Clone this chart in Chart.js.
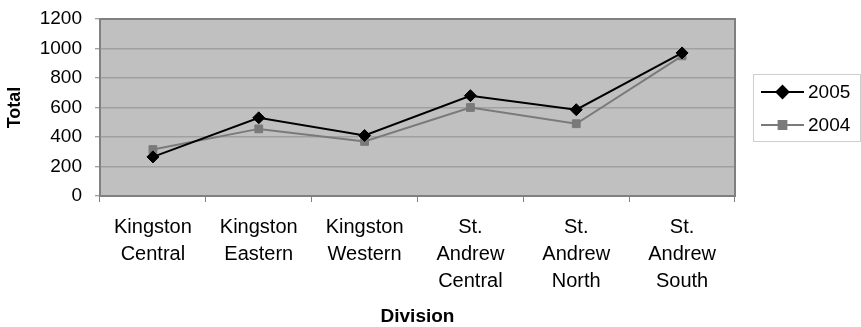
<!DOCTYPE html>
<html>
<head>
<meta charset="utf-8">
<script src="https://cdn.jsdelivr.net/npm/chart.js@4/dist/chart.umd.min.js"></script>
<style>
  html, body { margin: 0; padding: 0; background: #ffffff; }
  canvas { display: block; }
</style>
</head>
<body>
<canvas id="chart" width="861" height="327"></canvas>
<script>
// Divisions (multi-line category labels)
const divisions = [
  ['Kingston', 'Central'],
  ['Kingston', 'Eastern'],
  ['Kingston', 'Western'],
  ['St.', 'Andrew', 'Central'],
  ['St.', 'Andrew', 'North'],
  ['St.', 'Andrew', 'South']
];

// Totals per division
const totals2005 = [265, 530, 410, 680, 585, 970];
const totals2004 = [315, 455, 370, 600, 490, 950];

// Value axis ticks
const yTicks = [0, 200, 400, 600, 800, 1000, 1200];

const FONT = "'Liberation Sans', Arial, Helvetica, sans-serif";

// Gray plot background and frame
const plotFrame = {
  id: 'plotFrame',
  beforeDraw(chart) {
    const { ctx, chartArea: a } = chart;
    ctx.save();
    ctx.fillStyle = '#c0c0c0';
    ctx.fillRect(a.left, a.top, a.right - a.left, a.bottom - a.top);
    ctx.restore();
  },
  afterDatasetsDraw(chart) {
    const { ctx, chartArea: a } = chart;
    ctx.save();
    ctx.strokeStyle = '#808080';
    ctx.lineWidth = 2;
    ctx.strokeRect(a.left, a.top, a.right - a.left, a.bottom - a.top);
    ctx.restore();
  }
};

// Boxed legend to the right of the plot: line sample + marker + label
const boxedLegend = {
  id: 'boxedLegend',
  afterDraw(chart) {
    const { ctx, chartArea: a } = chart;
    const w = 107, h = 67;
    const x = a.right + 18;
    const y = Math.round((a.top + a.bottom) / 2 - h / 2);
    ctx.save();
    ctx.strokeStyle = '#cfcfcf';
    ctx.lineWidth = 1;
    ctx.strokeRect(x + 0.5, y + 0.5, w, h);
    chart.data.datasets.forEach((ds, i) => {
      const cy = y + 18 + i * 33;
      ctx.strokeStyle = ds.borderColor;
      ctx.lineWidth = 2;
      ctx.beginPath();
      ctx.moveTo(x + 8, cy);
      ctx.lineTo(x + 51, cy);
      ctx.stroke();
      ctx.fillStyle = ds.pointBackgroundColor;
      ctx.strokeStyle = ds.pointBorderColor;
      Chart.helpers.drawPoint(ctx, {
        pointStyle: ds.pointStyle,
        radius: ds.pointRadius,
        rotation: 0,
        borderWidth: 1
      }, x + 29.5, cy);
      ctx.fillStyle = '#000000';
      ctx.font = '19px ' + FONT;
      ctx.textAlign = 'left';
      ctx.textBaseline = 'middle';
      ctx.fillText(ds.label, x + 55, cy + 1);
    });
    ctx.restore();
  }
};

new Chart(document.getElementById('chart'), {
  type: 'line',
  data: {
    labels: divisions,
    datasets: [
      {
        label: '2005',
        data: totals2005,
        borderColor: '#000000',
        borderWidth: 2,
        pointStyle: 'rectRot',
        pointRadius: 6,
        pointBackgroundColor: '#000000',
        pointBorderColor: '#000000',
        pointBorderWidth: 1,
        tension: 0
      },
      {
        label: '2004',
        data: totals2004,
        borderColor: '#7a7a7a',
        borderWidth: 2,
        pointStyle: 'rect',
        pointRadius: 5.5,
        pointBackgroundColor: '#7a7a7a',
        pointBorderColor: '#7a7a7a',
        pointBorderWidth: 1,
        tension: 0
      }
    ]
  },
  options: {
    responsive: false,
    devicePixelRatio: 1,
    animation: false,
    events: [],
    layout: { padding: { left: 0, top: 19, right: 126, bottom: 0 } },
    plugins: {
      legend: { display: false },
      tooltip: { enabled: false }
    },
    scales: {
      x: {
        type: 'category',
        offset: true,
        afterFit(scale) {
          scale.height = 131;
          scale.paddingLeft = 0;
          scale.paddingRight = 0;
        },
        grid: {
          offset: true,
          drawOnChartArea: false,
          drawTicks: true,
          tickLength: 6,
          tickColor: '#808080',
          tickWidth: 1
        },
        border: { display: true, color: '#808080', width: 2 },
        ticks: {
          color: '#000000',
          padding: 12,
          maxRotation: 0,
          autoSkip: false,
          font: { family: FONT, size: 20, lineHeight: 1.35 }
        },
        title: {
          display: true,
          text: 'Division',
          color: '#000000',
          padding: { top: 0, bottom: 0 },
          font: { family: FONT, size: 19, weight: 'bold', lineHeight: 1.05 }
        }
      },
      y: {
        min: yTicks[0],
        max: yTicks[yTicks.length - 1],
        afterFit(scale) {
          scale.width = 100;
          scale.paddingTop = 0;
          scale.paddingBottom = 0;
        },
        afterBuildTicks(scale) { scale.ticks = yTicks.map(v => ({ value: v })); },
        grid: {
          color: '#a0a0a0',
          lineWidth: 1.5,
          drawTicks: true,
          tickLength: 5,
          tickColor: '#808080',
          tickWidth: 1
        },
        border: { display: true, color: '#808080', width: 2 },
        ticks: {
          color: '#000000',
          padding: 13,
          callback: v => String(v),
          font: { family: FONT, size: 19 }
        },
        title: {
          display: true,
          text: 'Total',
          color: '#000000',
          padding: { top: 4, bottom: 0 },
          font: { family: FONT, size: 18, weight: 'bold', lineHeight: 1.2 }
        }
      }
    }
  },
  plugins: [plotFrame, boxedLegend]
});
</script>
</body>
</html>
